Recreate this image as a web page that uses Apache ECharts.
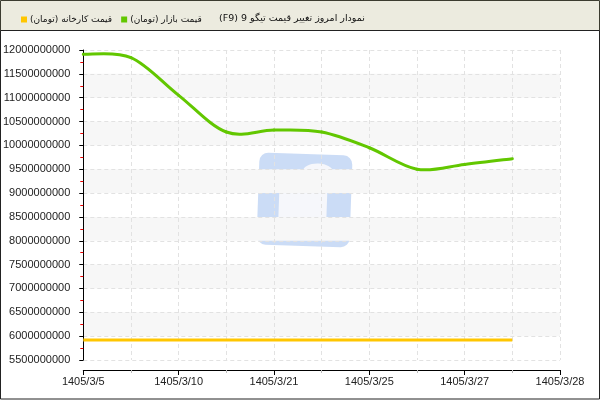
<!DOCTYPE html>
<html>
<head>
<meta charset="utf-8">
<script src="https://cdn.jsdelivr.net/npm/echarts@6/dist/echarts.min.js"></script>
<style>
  html, body { margin: 0; padding: 0; background: #fff; }
  #chart { width: 600px; height: 400px; }
</style>
</head>
<body>
<div id="chart"></div>
<script>
var chart = echarts.init(document.getElementById('chart'));

// tick labels of the x axis (one every two steps)
var xLabels = ['1405/3/5', '1405/3/10', '1405/3/21', '1405/3/25', '1405/3/27', '1405/3/28'];

var titleText = 'نمودار امروز تغییر قیمت تیگو 9 (F9)';
var marketName = 'قیمت بازار (تومان)';
var factoryName = 'قیمت کارخانه (تومان)';

// values, one per half step
var marketPrice = [11910000000, 11840000000, 11050000000, 10280000000, 10320000000,
                   10280000000, 9950000000, 9500000000, 9600000000, 9720000000];
var factoryPrice = [5920000000, 5920000000, 5920000000, 5920000000, 5920000000,
                    5920000000, 5920000000, 5920000000, 5920000000, 5920000000];

var marketColor = '#62c700';
var factoryColor = '#ffc600';

function toPairs(list) {
    return list.map(function (v, i) { return [i, v]; });
}

// canvas text is laid out LTR, wrap persian text in an RTL embedding
function rtl(s) {
    return '\u202B' + s + '\u202C';
}

// catmull-rom segment from point i to i+1, points taken from the axes
function splineSegment(list, color) {
    return function (params, api) {
        var i = params.dataIndex;
        var n = list.length;
        if (i >= n - 1) return null;
        function pt(k) {
            k = Math.max(0, Math.min(n - 1, k));
            return api.coord([k, list[k]]);
        }
        var p0 = pt(i - 1), p1 = pt(i), p2 = pt(i + 1), p3 = pt(i + 2);
        return {
            type: 'bezierCurve',
            shape: {
                x1: p1[0], y1: p1[1],
                cpx1: p1[0] + (p2[0] - p0[0]) / 6, cpy1: p1[1] + (p2[1] - p0[1]) / 6,
                cpx2: p2[0] - (p3[0] - p1[0]) / 6, cpy2: p2[1] - (p3[1] - p1[1]) / 6,
                x2: p2[0], y2: p2[1]
            },
            style: { stroke: color, lineWidth: 3, fill: null, lineCap: 'round' }
        };
    };
}

var labelFont = 'Liberation Sans, Arial, sans-serif';
var faFont = 'DejaVu Sans, sans-serif';

var option = {
    animation: false,
    backgroundColor: '#fff',
    title: {
        text: rtl(titleText),
        left: 214,
        top: 9,
        textStyle: { fontFamily: faFont, fontSize: 9.5, fontWeight: 'normal', color: '#111' }
    },
    legend: {
        left: 16,
        top: 10,
        itemWidth: 6,
        itemHeight: 6,
        itemGap: 9,
        icon: 'rect',
        data: [factoryName, marketName],
        formatter: function (name) { return rtl(name); },
        textStyle: { fontFamily: faFont, fontSize: 9, color: '#111', padding: [0, 0, 0, -2] }
    },
    graphic: [
        {
            type: 'rect', z: -10, silent: true,
            shape: { x: 0.5, y: 0.5, width: 599, height: 30 },
            style: { fill: '#ecebdf', stroke: '#3c3c30', lineWidth: 1 }
        },
        {
            type: 'rect', z: -10, silent: true,
            shape: { x: 0.5, y: 30.5, width: 599, height: 368.5 },
            style: { fill: 'none', stroke: '#222', lineWidth: 1 }
        },
        {
            // faded watermark logo
            type: 'group', x: 305, y: 200, rotation: -0.035, silent: true, z: 1,
            children: [
                { type: 'rect', shape: { x: -47, y: -46, width: 93, height: 92, r: 9 },
                  style: { fill: '#c5d8f5', opacity: 0.9 } },
                { type: 'ellipse', shape: { cx: 12, cy: -29, rx: 15, ry: 8 },
                  style: { fill: '#f6f7fb' } },
                { type: 'ellipse', shape: { cx: -14, cy: -22, rx: 13, ry: 7 },
                  style: { fill: '#f6f7fb' } },
                { type: 'rect', shape: { x: -26, y: -12, width: 48, height: 50, r: [4, 4, 12, 10] },
                  style: { fill: '#f6f7fb' } }
            ]
        }
    ],
    grid: { left: 80, right: 40, top: 50, bottom: 40 },
    xAxis: {
        type: 'value',
        min: 0,
        max: 10,
        interval: 2,
        offset: 10,
        axisLine: { show: true, lineStyle: { color: '#000', width: 1 } },
        axisTick: { show: true, length: 5, lineStyle: { color: '#000' } },
        minorTick: { show: true, splitNumber: 2, length: 3, lineStyle: { color: '#bbb' } },
        axisLabel: {
            fontFamily: labelFont, fontSize: 11, color: '#222', margin: 6,
            formatter: function (v) { return xLabels[Math.round(v / 2)]; }
        },
        splitLine: { show: true, lineStyle: { color: '#e2e2e2', type: [4, 3] } },
        minorSplitLine: { show: true, lineStyle: { color: '#e2e2e2', type: [4, 3] } }
    },
    yAxis: {
        type: 'value',
        min: 5500000000,
        max: 12000000000,
        interval: 500000000,
        offset: 10,
        axisLine: { show: true, lineStyle: { color: '#000', width: 1 } },
        axisTick: { show: true, length: 4, lineStyle: { color: '#000' } },
        minorTick: { show: true, splitNumber: 2, length: 3, lineStyle: { color: '#e00' } },
        axisLabel: {
            fontFamily: labelFont, fontSize: 11, color: '#222', margin: 3,
            formatter: function (v) { return String(v); }
        },
        splitLine: { show: true, lineStyle: { color: '#e2e2e2', type: [4, 3] } },
        splitArea: { show: true, areaStyle: { color: ['rgba(255,255,255,0)', '#f7f7f7'] } }
    },
    series: [
        {
            name: factoryName,
            type: 'line',
            data: toPairs(factoryPrice),
            showSymbol: false,
            color: factoryColor,
            lineStyle: { width: 3, color: factoryColor },
            z: 3
        },
        {
            name: marketName,
            type: 'custom',
            data: toPairs(marketPrice),
            itemStyle: { color: marketColor },
            renderItem: splineSegment(marketPrice, marketColor),
            z: 3
        }
    ]
};

chart.setOption(option);
</script>
</body>
</html>
